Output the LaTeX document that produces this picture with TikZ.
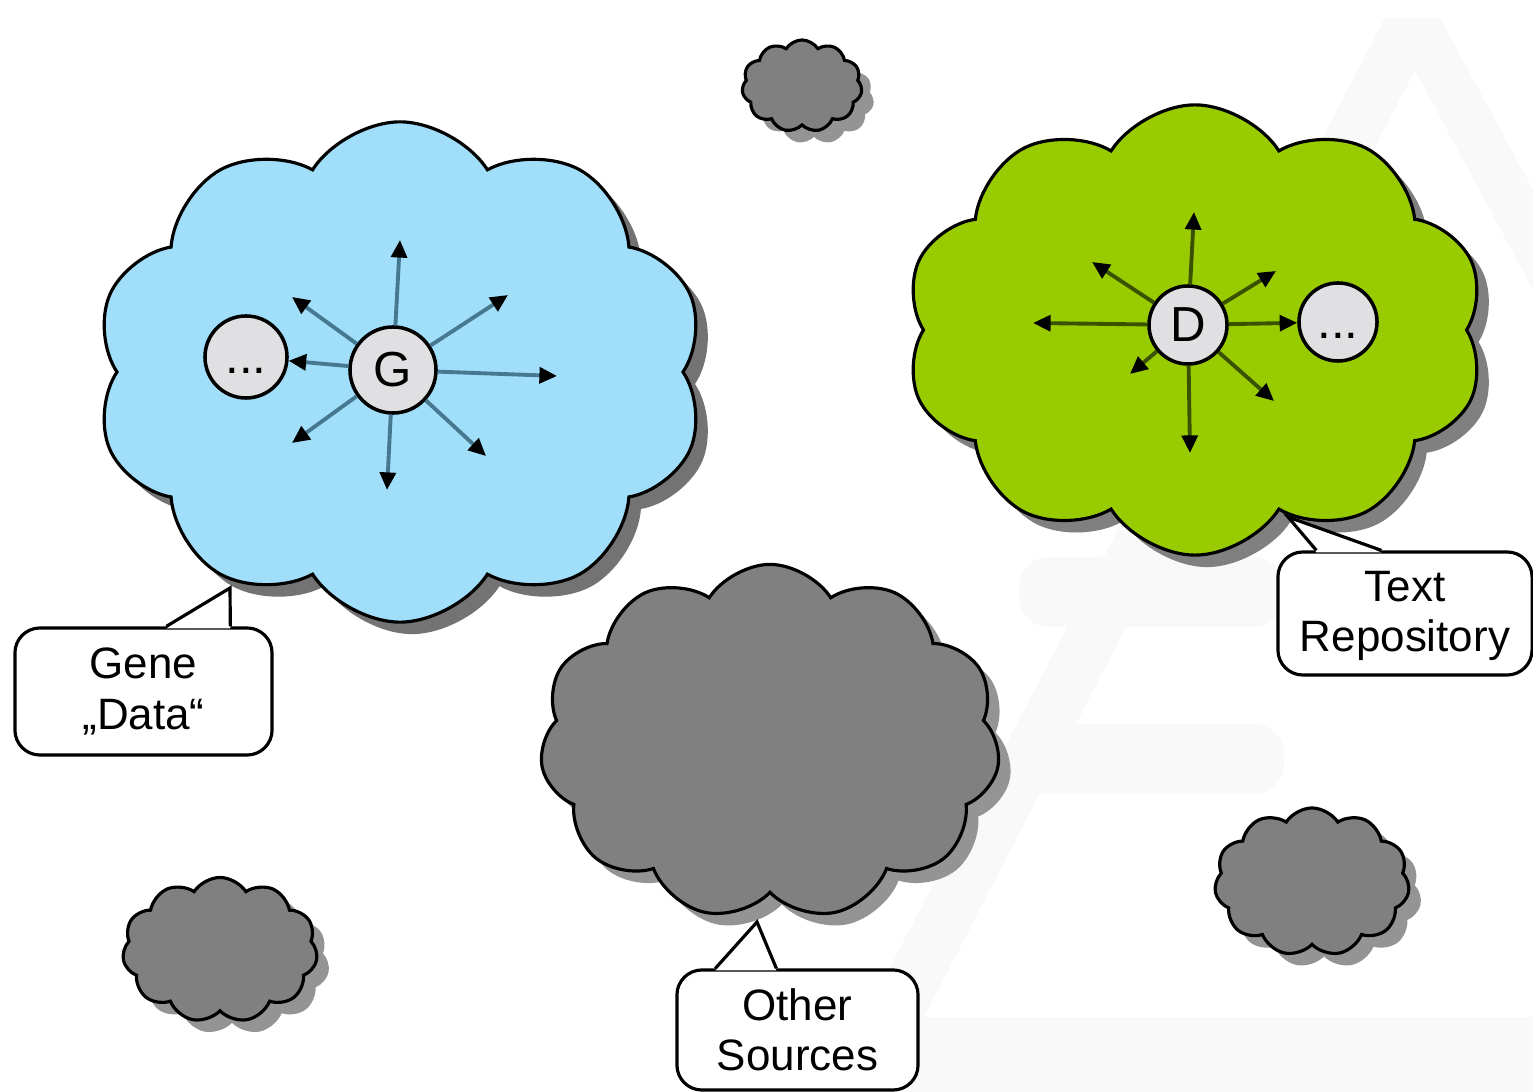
\documentclass[tikz,border=0pt]{standalone}
\usepackage{fontspec}
\setmainfont{Liberation Sans}
\usetikzlibrary{shapes.symbols,shadows,arrows.meta,calc}

\definecolor{skyfill}{RGB}{160,222,250}
\definecolor{skyline}{RGB}{70,120,144}
\definecolor{limefill}{RGB}{153,204,0}
\definecolor{limeline}{RGB}{58,82,0}
\definecolor{stonefill}{RGB}{128,128,128}
\definecolor{bubblefill}{RGB}{224,224,226}
\definecolor{markfill}{RGB}{249,249,250}

\tikzset{
  puff/.style={cloud, cloud puffs=#1, cloud puff arc=115, cloud ignores aspect,
    draw=black, line width=0.9pt, inner sep=0pt},
  shade/.style={drop shadow={shadow xshift=0.12cm, shadow yshift=-0.12cm, fill=#1, opacity=1}},
  bubble/.style={circle, draw=black, line width=1pt, fill=bubblefill, inner sep=0pt,
    minimum size=#1, font=\fontsize{14}{14}\selectfont},
  ray/.style={-{Triangle[length=5pt,width=4.5pt,color=black]}, line width=1.1pt},
  tag/.style={draw=black, line width=0.9pt, fill=white, rounded corners=0.25cm,
    align=center, inner sep=0pt, font=\fontsize{12.5}{14.3}\selectfont},
  tagline/.style={draw=black, line width=0.9pt},
}

\begin{document}
\begin{tikzpicture}[x=0.01cm, y=-0.01cm]
  \useasboundingbox (0,0) rectangle (1533,1092);
  \fill[white] (0,0) rectangle (1533,1092);

  % faint watermark behind everything
  \fill[markfill] (1385,18) -- (1440,18) -- (1533,190) -- (1533,290) -- (1415,70) -- (885,1092) -- (825,1092) -- cycle;
  \fill[markfill, rounded corners=0.3cm] (1019,557) rectangle (1284,627);
  \fill[markfill, rounded corners=0.3cm] (1019,724) rectangle (1284,794);
  \fill[markfill] (860,1017) rectangle (1533,1092);

  % clouds
  \node[puff=10, fill=skyfill, shade=black!55, minimum width=6.1cm, minimum height=5.0cm] (gene cloud) at (400,372) {};
  \node[puff=10, fill=limefill, shade=black!50, minimum width=5.8cm, minimum height=4.5cm] (text cloud) at (1195,330) {};
  \node[puff=11, fill=stonefill, shade=black!42, minimum width=4.6cm, minimum height=3.55cm] (other cloud) at (770,742) {};
  \node[puff=11, fill=stonefill, shade=black!42, minimum width=1.2cm, minimum height=0.92cm] (top cloud) at (802,86) {};
  \node[puff=11, fill=stonefill, shade=black!42, minimum width=1.95cm, minimum height=1.45cm] (left cloud) at (220,950) {};
  \node[puff=11, fill=stonefill, shade=black!42, minimum width=1.95cm, minimum height=1.48cm] (right cloud) at (1312,882) {};

  % gene star
  \node[bubble=0.86cm] (g) at (393,370) {G};
  \node[bubble=0.82cm] (gdots) at (246,357) {\vphantom{G}...};
  \draw[ray, skyline] (g) -- (gdots);
  \foreach \i/\tx/\ty in {1/400/240, 2/292/297, 3/508/295, 4/557/376, 5/292/443, 6/387/490, 7/486/456} {
    \coordinate (gend\i) at (\tx,\ty);
    \draw[ray, skyline] (g) -- (gend\i);
  }

  % text star
  \node[bubble=0.78cm] (d) at (1188,325) {D};
  \node[bubble=0.78cm] (ddots) at (1338,322) {\vphantom{G}...};
  \draw[ray, limeline] (d) -- (ddots);
  \foreach \i/\tx/\ty in {1/1194/212, 2/1092/262, 3/1276/271, 4/1033/323, 5/1130/374, 6/1190/453, 7/1274/401} {
    \coordinate (dend\i) at (\tx,\ty);
    \draw[ray, limeline] (d) -- (dend\i);
  }

  % callouts
  \node[tag, minimum width=2.57cm, minimum height=1.27cm] (gene) at (143.5,691.5) {Gene\\„Data“};
  \coordinate (genetip) at (230,588);
  \fill[white] ($(gene.north west)+(153,2)$) -- (genetip) -- ($(gene.north west)+(217,2)$) -- cycle;
  \draw[tagline] ($(gene.north west)+(153,0)$) -- (genetip) -- ($(gene.north west)+(217,0)$);

  \node[tag, minimum width=2.54cm, minimum height=1.23cm] (repo) at (1405,613.5) {\strut Text\\Repository};
  \coordinate (repotip) at (1288,517);
  \fill[white] ($(repo.north west)+(40,2)$) -- (repotip) -- ($(repo.north west)+(105,2)$) -- cycle;
  \draw[tagline] ($(repo.north west)+(40,0)$) -- (repotip) -- ($(repo.north west)+(105,0)$);

  \node[tag, minimum width=2.41cm, minimum height=1.2cm] (other) at (797.5,1030) {Other\\Sources};
  \coordinate (othertip) at (757,922);
  \fill[white] ($(other.north west)+(40,2)$) -- (othertip) -- ($(other.north west)+(101,2)$) -- cycle;
  \draw[tagline] ($(other.north west)+(40,0)$) -- (othertip) -- ($(other.north west)+(101,0)$);
\end{tikzpicture}
\end{document}
